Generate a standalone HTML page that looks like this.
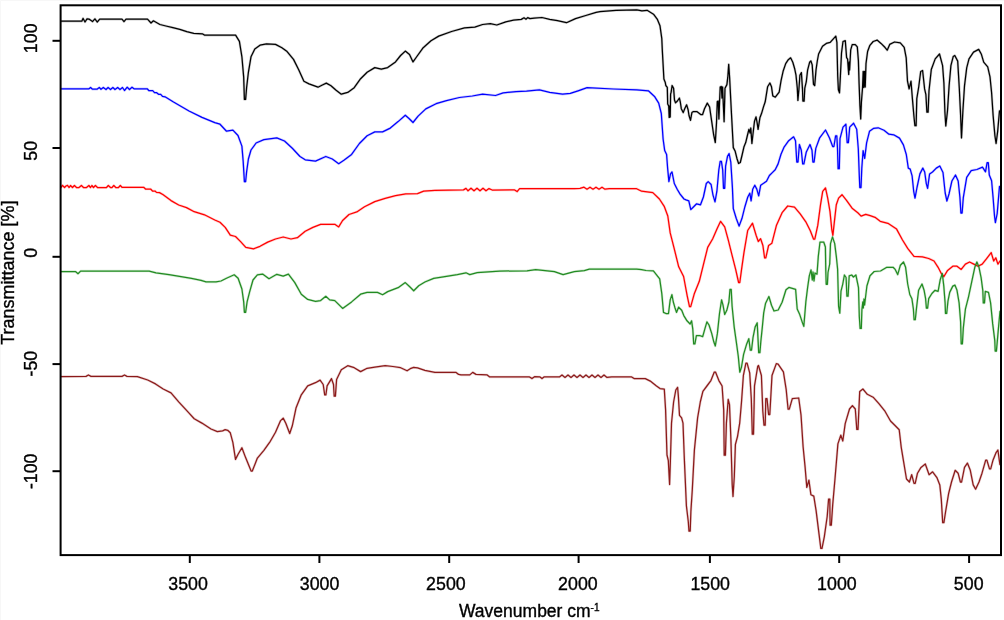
<!DOCTYPE html><html><head><meta charset="utf-8"><style>html,body{margin:0;padding:0;background:#fff;overflow:hidden;width:1004px;height:620px;}svg{display:block;}text{font-family:"Liberation Sans",Arial,sans-serif;fill:#000;stroke:#000;stroke-width:0.35px;}</style></head><body>
<svg width="1004" height="620" viewBox="0 0 1004 620">
<rect x="0" y="0" width="1004" height="620" fill="#fff"/>
<path d="M0.5,620V0.5H1004" fill="none" stroke="#f7f7f7" stroke-width="1"/>
<g>
<polyline fill="none" stroke="#000000" stroke-opacity="0.2" stroke-width="2.5" stroke-linejoin="round" stroke-linecap="round" points="61.3,21.2 81.8,21.2 83.0,18.4 85.0,22.0 87.0,18.8 89.3,19.2 92.5,21.6 94.9,18.8 97.3,22.0 99.7,19.2 122.0,19.2 124.0,21.6 126.0,19.2 147.5,19.2 151.0,23.0 153.4,20.8 159.9,24.5 165.9,26.0 172.9,27.7 179.8,29.4 186.8,31.7 193.8,33.4 202.7,33.9 204.7,35.2 235.6,35.2 239.4,41.3 241.9,56.8 243.7,77.4 244.4,99.4 245.6,99.4 246.6,87.7 248.4,72.3 251.0,56.8 254.8,49.0 260.0,45.2 266.5,43.9 275.5,44.4 281.9,47.7 287.1,51.6 293.5,59.4 298.7,69.7 303.9,81.3 309.0,83.9 318.0,87.2 321.9,85.2 326.3,83.1 331.0,85.7 336.1,90.3 341.3,94.2 347.7,92.4 354.2,87.7 360.6,78.7 367.1,72.3 374.8,67.6 381.3,69.2 387.7,67.6 395.5,61.9 400.6,55.5 405.3,51.1 409.5,54.5 413.0,61.9 416.5,57.0 423.2,47.7 431.0,40.8 438.7,36.1 451.6,31.5 464.5,27.9 474.8,27.1 482.6,24.5 490.3,23.7 496.8,25.0 505.8,21.9 513.5,20.1 521.3,19.4 524.0,17.8 526.0,19.2 527.7,17.6 530.0,18.6 534.2,18.1 541.9,17.5 549.7,19.4 557.4,20.6 566.5,22.7 575.5,18.6 585.8,15.5 596.1,12.4 600.0,11.6 616.1,10.3 636.8,9.8 641.9,10.8 647.1,10.3 653.5,14.2 657.4,19.4 660.0,25.8 661.8,38.7 662.3,50.0 663.9,79.0 665.3,82.6 665.8,85.5 667.3,87.4 667.7,104.0 668.7,106.0 669.2,117.4 669.8,106.0 670.2,117.0 670.6,94.2 671.1,92.3 672.1,85.5 673.6,88.4 674.5,100.0 675.5,102.9 677.4,101.0 679.4,98.1 680.3,102.0 681.3,108.7 683.2,112.6 684.7,108.7 686.6,104.8 688.1,109.7 689.0,115.5 690.5,120.3 691.9,112.6 693.4,111.6 696.8,111.6 700.7,114.5 702.6,114.5 704.5,108.7 707.3,103.1 709.6,107.0 711.8,122.1 713.6,134.5 715.3,142.5 716.5,123.0 717.3,101.5 718.2,101.0 718.9,119.0 719.6,101.0 720.2,87.0 721.3,86.5 722.0,98.0 722.6,87.0 723.1,99.4 724.1,121.7 725.0,88.3 726.9,84.6 727.8,77.2 728.7,64.3 729.6,77.2 731.5,114.3 733.3,147.6 735.2,151.3 737.0,158.7 738.6,163.5 740.3,162.5 742.1,155.0 743.9,147.1 745.7,142.6 747.4,135.5 748.9,129.3 750.1,133.0 750.8,128.0 751.9,143.5 752.8,135.5 754.5,121.3 756.0,116.9 757.2,123.1 758.1,129.3 759.9,117.8 761.6,113.3 763.4,107.1 765.2,101.8 767.6,86.8 769.9,83.0 771.5,86.8 772.8,95.9 775.3,97.2 779.2,92.0 781.1,80.4 783.1,71.3 785.7,63.6 788.3,59.7 790.6,57.8 792.8,62.3 794.7,68.8 796.0,75.2 797.3,88.1 797.9,100.4 798.9,89.4 799.9,75.2 801.4,72.6 802.5,89.4 802.9,101.1 804.1,101.1 804.8,88.1 806.3,81.7 807.6,70.1 809.6,62.3 810.9,61.0 812.2,64.9 813.5,84.3 814.7,85.6 816.0,70.1 817.3,61.0 818.6,54.0 822.5,46.3 826.3,43.4 830.2,42.4 835.8,36.1 836.9,42.3 837.7,76.0 838.4,89.8 839.5,92.9 840.4,76.0 841.5,53.0 843.0,41.5 845.3,40.7 846.6,57.6 847.6,59.1 848.7,74.5 849.2,62.0 849.6,70.0 850.7,49.9 852.2,44.6 855.3,44.6 857.3,46.9 858.4,60.7 859.1,83.7 859.9,105.2 860.7,119.0 861.4,102.1 862.5,88.3 863.2,71.4 863.8,87.5 864.5,71.4 865.2,87.0 866.0,63.7 867.6,51.5 869.9,45.3 873.2,41.5 877.1,40.1 881.0,43.4 884.9,47.3 887.2,50.2 889.7,44.4 894.5,42.0 900.3,42.8 904.2,47.3 906.2,57.9 907.5,81.2 909.1,88.9 911.0,81.2 912.4,98.6 913.9,116.0 914.9,125.7 916.1,125.7 916.8,98.6 918.7,87.0 920.7,71.5 922.6,70.5 924.6,88.9 925.9,94.7 926.9,112.1 928.1,112.1 929.0,90.8 931.3,69.5 935.2,58.9 939.5,54.0 942.6,65.7 943.9,83.1 944.9,112.1 945.8,126.0 947.5,110.8 949.1,85.9 950.9,65.6 953.2,56.6 954.8,55.5 957.7,61.1 959.3,88.2 960.6,115.3 961.5,137.9 962.9,110.8 964.5,85.9 966.7,67.9 969.0,58.9 973.5,52.1 978.7,49.4 981.4,54.3 983.7,62.2 987.7,66.8 990.0,76.9 991.6,92.7 993.1,115.3 994.9,135.6 996.1,143.5 997.7,131.1 999.5,110.8"/>
<polyline fill="none" stroke="#000000" stroke-width="1.25" stroke-linejoin="round" stroke-linecap="round" points="61.3,21.2 81.8,21.2 83.0,18.4 85.0,22.0 87.0,18.8 89.3,19.2 92.5,21.6 94.9,18.8 97.3,22.0 99.7,19.2 122.0,19.2 124.0,21.6 126.0,19.2 147.5,19.2 151.0,23.0 153.4,20.8 159.9,24.5 165.9,26.0 172.9,27.7 179.8,29.4 186.8,31.7 193.8,33.4 202.7,33.9 204.7,35.2 235.6,35.2 239.4,41.3 241.9,56.8 243.7,77.4 244.4,99.4 245.6,99.4 246.6,87.7 248.4,72.3 251.0,56.8 254.8,49.0 260.0,45.2 266.5,43.9 275.5,44.4 281.9,47.7 287.1,51.6 293.5,59.4 298.7,69.7 303.9,81.3 309.0,83.9 318.0,87.2 321.9,85.2 326.3,83.1 331.0,85.7 336.1,90.3 341.3,94.2 347.7,92.4 354.2,87.7 360.6,78.7 367.1,72.3 374.8,67.6 381.3,69.2 387.7,67.6 395.5,61.9 400.6,55.5 405.3,51.1 409.5,54.5 413.0,61.9 416.5,57.0 423.2,47.7 431.0,40.8 438.7,36.1 451.6,31.5 464.5,27.9 474.8,27.1 482.6,24.5 490.3,23.7 496.8,25.0 505.8,21.9 513.5,20.1 521.3,19.4 524.0,17.8 526.0,19.2 527.7,17.6 530.0,18.6 534.2,18.1 541.9,17.5 549.7,19.4 557.4,20.6 566.5,22.7 575.5,18.6 585.8,15.5 596.1,12.4 600.0,11.6 616.1,10.3 636.8,9.8 641.9,10.8 647.1,10.3 653.5,14.2 657.4,19.4 660.0,25.8 661.8,38.7 662.3,50.0 663.9,79.0 665.3,82.6 665.8,85.5 667.3,87.4 667.7,104.0 668.7,106.0 669.2,117.4 669.8,106.0 670.2,117.0 670.6,94.2 671.1,92.3 672.1,85.5 673.6,88.4 674.5,100.0 675.5,102.9 677.4,101.0 679.4,98.1 680.3,102.0 681.3,108.7 683.2,112.6 684.7,108.7 686.6,104.8 688.1,109.7 689.0,115.5 690.5,120.3 691.9,112.6 693.4,111.6 696.8,111.6 700.7,114.5 702.6,114.5 704.5,108.7 707.3,103.1 709.6,107.0 711.8,122.1 713.6,134.5 715.3,142.5 716.5,123.0 717.3,101.5 718.2,101.0 718.9,119.0 719.6,101.0 720.2,87.0 721.3,86.5 722.0,98.0 722.6,87.0 723.1,99.4 724.1,121.7 725.0,88.3 726.9,84.6 727.8,77.2 728.7,64.3 729.6,77.2 731.5,114.3 733.3,147.6 735.2,151.3 737.0,158.7 738.6,163.5 740.3,162.5 742.1,155.0 743.9,147.1 745.7,142.6 747.4,135.5 748.9,129.3 750.1,133.0 750.8,128.0 751.9,143.5 752.8,135.5 754.5,121.3 756.0,116.9 757.2,123.1 758.1,129.3 759.9,117.8 761.6,113.3 763.4,107.1 765.2,101.8 767.6,86.8 769.9,83.0 771.5,86.8 772.8,95.9 775.3,97.2 779.2,92.0 781.1,80.4 783.1,71.3 785.7,63.6 788.3,59.7 790.6,57.8 792.8,62.3 794.7,68.8 796.0,75.2 797.3,88.1 797.9,100.4 798.9,89.4 799.9,75.2 801.4,72.6 802.5,89.4 802.9,101.1 804.1,101.1 804.8,88.1 806.3,81.7 807.6,70.1 809.6,62.3 810.9,61.0 812.2,64.9 813.5,84.3 814.7,85.6 816.0,70.1 817.3,61.0 818.6,54.0 822.5,46.3 826.3,43.4 830.2,42.4 835.8,36.1 836.9,42.3 837.7,76.0 838.4,89.8 839.5,92.9 840.4,76.0 841.5,53.0 843.0,41.5 845.3,40.7 846.6,57.6 847.6,59.1 848.7,74.5 849.2,62.0 849.6,70.0 850.7,49.9 852.2,44.6 855.3,44.6 857.3,46.9 858.4,60.7 859.1,83.7 859.9,105.2 860.7,119.0 861.4,102.1 862.5,88.3 863.2,71.4 863.8,87.5 864.5,71.4 865.2,87.0 866.0,63.7 867.6,51.5 869.9,45.3 873.2,41.5 877.1,40.1 881.0,43.4 884.9,47.3 887.2,50.2 889.7,44.4 894.5,42.0 900.3,42.8 904.2,47.3 906.2,57.9 907.5,81.2 909.1,88.9 911.0,81.2 912.4,98.6 913.9,116.0 914.9,125.7 916.1,125.7 916.8,98.6 918.7,87.0 920.7,71.5 922.6,70.5 924.6,88.9 925.9,94.7 926.9,112.1 928.1,112.1 929.0,90.8 931.3,69.5 935.2,58.9 939.5,54.0 942.6,65.7 943.9,83.1 944.9,112.1 945.8,126.0 947.5,110.8 949.1,85.9 950.9,65.6 953.2,56.6 954.8,55.5 957.7,61.1 959.3,88.2 960.6,115.3 961.5,137.9 962.9,110.8 964.5,85.9 966.7,67.9 969.0,58.9 973.5,52.1 978.7,49.4 981.4,54.3 983.7,62.2 987.7,66.8 990.0,76.9 991.6,92.7 993.1,115.3 994.9,135.6 996.1,143.5 997.7,131.1 999.5,110.8"/>
<polyline fill="none" stroke="#0000ff" stroke-opacity="0.2" stroke-width="2.5" stroke-linejoin="round" stroke-linecap="round" points="61.3,88.8 89.0,88.8 90.6,87.5 92.5,89.2 97.0,89.2 99.3,87.5 101.0,89.3 103.3,87.5 106.0,89.5 108.1,87.5 110.5,89.5 112.9,87.5 115.0,89.5 117.7,87.5 120.0,89.5 122.5,87.5 124.5,90.5 127.2,87.2 129.5,89.5 132.0,87.2 134.0,88.8 147.2,88.8 149.0,90.7 152.7,90.7 154.5,92.7 156.7,92.7 158.5,94.3 160.7,94.3 162.5,96.3 165.0,96.8 173.5,102.0 189.0,111.0 202.0,117.4 214.8,122.6 220.0,124.2 226.5,131.2 232.9,130.1 238.0,135.5 241.9,146.1 243.2,161.6 244.4,181.7 245.6,181.7 246.6,171.9 248.4,159.0 251.0,150.0 256.1,143.0 263.9,139.7 276.8,137.9 284.5,141.0 292.3,148.2 300.0,156.5 305.2,159.8 315.5,161.1 325.8,156.5 332.3,159.0 338.7,163.7 343.9,160.3 351.6,154.4 359.4,143.5 367.1,135.8 374.8,131.9 382.6,131.9 390.3,128.1 398.1,121.6 405.3,115.2 409.0,118.5 413.0,122.5 418.1,116.1 425.8,108.9 436.1,103.7 446.5,100.6 459.4,97.5 472.3,96.0 482.6,94.2 495.5,95.5 503.2,92.9 516.1,91.6 526.5,91.1 539.4,89.8 549.7,92.4 562.6,94.2 570.3,93.4 578.1,90.8 587.1,87.7 613.5,89.0 636.8,89.8 648.4,90.8 654.8,96.8 658.7,103.2 661.3,113.5 663.1,139.0 664.7,150.6 666.6,154.5 667.6,168.0 668.9,181.6 670.5,173.8 672.0,171.9 674.3,183.5 677.2,189.3 680.1,194.1 684.0,199.0 686.0,199.9 688.8,200.9 690.8,209.6 693.7,206.7 696.6,203.8 700.5,204.8 703.4,197.0 706.3,183.5 708.2,181.6 711.1,184.5 713.0,195.1 715.0,201.9 716.9,191.2 718.8,170.0 720.2,161.3 721.4,161.3 722.7,170.0 723.5,188.3 724.7,188.3 725.6,166.1 727.5,156.4 729.1,153.5 730.8,162.2 732.4,187.4 733.3,208.6 736.2,218.3 739.1,226.1 742.0,218.3 744.9,206.7 747.8,197.0 749.8,193.2 751.1,200.9 752.7,189.3 754.8,185.2 756.8,189.1 758.7,195.9 760.7,185.2 763.6,183.3 766.5,181.3 769.4,175.5 772.3,172.6 775.2,169.7 778.1,163.9 781.0,154.2 783.9,147.4 788.7,140.7 793.6,136.8 795.5,140.7 796.8,162.0 798.0,162.0 799.4,144.5 801.3,150.3 802.7,163.9 803.9,163.9 806.2,152.3 810.0,144.5 812.0,150.3 812.9,162.0 814.1,162.0 815.8,148.4 819.7,137.8 825.5,130.0 829.4,137.8 832.7,146.5 833.9,146.5 835.6,135.8 836.8,135.8 837.5,148.4 838.1,168.7 839.3,168.7 840.0,138.7 843.0,127.1 845.9,124.2 847.2,142.6 848.4,142.6 849.7,127.1 853.6,123.2 856.7,129.2 858.3,148.7 859.3,175.8 859.8,187.5 861.0,187.5 861.8,168.1 863.1,150.7 864.7,158.4 866.6,142.9 869.5,131.3 873.4,128.4 878.2,127.8 884.0,130.3 888.9,134.2 893.7,134.8 899.5,138.1 903.4,144.9 906.3,154.5 908.3,168.1 910.2,169.1 912.1,175.8 913.7,191.3 915.0,198.1 917.0,187.5 919.9,173.9 922.8,168.1 924.7,172.0 926.3,183.6 927.6,188.4 929.6,173.9 932.5,172.0 936.3,168.1 939.8,166.0 943.0,172.5 945.2,193.0 946.9,201.0 949.0,194.0 951.9,181.0 955.5,175.0 958.2,181.0 959.9,197.0 960.9,213.0 962.1,213.0 963.3,197.7 966.7,177.4 971.2,170.6 976.9,169.5 982.5,167.2 985.5,171.8 987.1,162.7 988.3,162.7 989.3,175.1 991.6,180.8 993.1,197.7 994.5,215.8 995.4,222.6 997.2,213.5 999.5,186.4"/>
<polyline fill="none" stroke="#0000ff" stroke-width="1.25" stroke-linejoin="round" stroke-linecap="round" points="61.3,88.8 89.0,88.8 90.6,87.5 92.5,89.2 97.0,89.2 99.3,87.5 101.0,89.3 103.3,87.5 106.0,89.5 108.1,87.5 110.5,89.5 112.9,87.5 115.0,89.5 117.7,87.5 120.0,89.5 122.5,87.5 124.5,90.5 127.2,87.2 129.5,89.5 132.0,87.2 134.0,88.8 147.2,88.8 149.0,90.7 152.7,90.7 154.5,92.7 156.7,92.7 158.5,94.3 160.7,94.3 162.5,96.3 165.0,96.8 173.5,102.0 189.0,111.0 202.0,117.4 214.8,122.6 220.0,124.2 226.5,131.2 232.9,130.1 238.0,135.5 241.9,146.1 243.2,161.6 244.4,181.7 245.6,181.7 246.6,171.9 248.4,159.0 251.0,150.0 256.1,143.0 263.9,139.7 276.8,137.9 284.5,141.0 292.3,148.2 300.0,156.5 305.2,159.8 315.5,161.1 325.8,156.5 332.3,159.0 338.7,163.7 343.9,160.3 351.6,154.4 359.4,143.5 367.1,135.8 374.8,131.9 382.6,131.9 390.3,128.1 398.1,121.6 405.3,115.2 409.0,118.5 413.0,122.5 418.1,116.1 425.8,108.9 436.1,103.7 446.5,100.6 459.4,97.5 472.3,96.0 482.6,94.2 495.5,95.5 503.2,92.9 516.1,91.6 526.5,91.1 539.4,89.8 549.7,92.4 562.6,94.2 570.3,93.4 578.1,90.8 587.1,87.7 613.5,89.0 636.8,89.8 648.4,90.8 654.8,96.8 658.7,103.2 661.3,113.5 663.1,139.0 664.7,150.6 666.6,154.5 667.6,168.0 668.9,181.6 670.5,173.8 672.0,171.9 674.3,183.5 677.2,189.3 680.1,194.1 684.0,199.0 686.0,199.9 688.8,200.9 690.8,209.6 693.7,206.7 696.6,203.8 700.5,204.8 703.4,197.0 706.3,183.5 708.2,181.6 711.1,184.5 713.0,195.1 715.0,201.9 716.9,191.2 718.8,170.0 720.2,161.3 721.4,161.3 722.7,170.0 723.5,188.3 724.7,188.3 725.6,166.1 727.5,156.4 729.1,153.5 730.8,162.2 732.4,187.4 733.3,208.6 736.2,218.3 739.1,226.1 742.0,218.3 744.9,206.7 747.8,197.0 749.8,193.2 751.1,200.9 752.7,189.3 754.8,185.2 756.8,189.1 758.7,195.9 760.7,185.2 763.6,183.3 766.5,181.3 769.4,175.5 772.3,172.6 775.2,169.7 778.1,163.9 781.0,154.2 783.9,147.4 788.7,140.7 793.6,136.8 795.5,140.7 796.8,162.0 798.0,162.0 799.4,144.5 801.3,150.3 802.7,163.9 803.9,163.9 806.2,152.3 810.0,144.5 812.0,150.3 812.9,162.0 814.1,162.0 815.8,148.4 819.7,137.8 825.5,130.0 829.4,137.8 832.7,146.5 833.9,146.5 835.6,135.8 836.8,135.8 837.5,148.4 838.1,168.7 839.3,168.7 840.0,138.7 843.0,127.1 845.9,124.2 847.2,142.6 848.4,142.6 849.7,127.1 853.6,123.2 856.7,129.2 858.3,148.7 859.3,175.8 859.8,187.5 861.0,187.5 861.8,168.1 863.1,150.7 864.7,158.4 866.6,142.9 869.5,131.3 873.4,128.4 878.2,127.8 884.0,130.3 888.9,134.2 893.7,134.8 899.5,138.1 903.4,144.9 906.3,154.5 908.3,168.1 910.2,169.1 912.1,175.8 913.7,191.3 915.0,198.1 917.0,187.5 919.9,173.9 922.8,168.1 924.7,172.0 926.3,183.6 927.6,188.4 929.6,173.9 932.5,172.0 936.3,168.1 939.8,166.0 943.0,172.5 945.2,193.0 946.9,201.0 949.0,194.0 951.9,181.0 955.5,175.0 958.2,181.0 959.9,197.0 960.9,213.0 962.1,213.0 963.3,197.7 966.7,177.4 971.2,170.6 976.9,169.5 982.5,167.2 985.5,171.8 987.1,162.7 988.3,162.7 989.3,175.1 991.6,180.8 993.1,197.7 994.5,215.8 995.4,222.6 997.2,213.5 999.5,186.4"/>
<polyline fill="none" stroke="#ff0000" stroke-opacity="0.2" stroke-width="2.5" stroke-linejoin="round" stroke-linecap="round" points="61.3,187.2 62.5,185.3 64.5,187.5 66.0,186.0 67.5,185.3 69.0,187.5 70.5,185.5 72.5,187.5 74.4,185.5 76.5,187.5 79.0,187.5 81.4,185.5 83.5,187.5 86.5,187.5 88.9,185.5 90.5,187.5 91.9,185.5 93.5,187.5 95.4,185.5 97.5,187.5 106.5,187.5 108.3,185.5 110.5,187.5 112.0,187.5 113.8,185.5 115.8,187.5 118.5,187.5 120.3,185.5 122.0,187.3 143.7,187.3 145.5,189.0 150.6,189.0 152.5,191.0 155.0,191.0 156.5,192.4 159.5,192.6 163.2,194.7 171.0,200.6 178.7,205.0 186.5,207.6 194.2,211.7 204.5,214.8 214.8,220.0 220.0,222.3 225.2,227.4 230.3,235.2 235.5,236.5 240.6,241.6 245.8,247.3 253.5,248.8 260.0,246.3 267.7,242.1 275.5,239.0 283.2,237.0 291.0,239.0 297.4,237.7 305.2,231.3 312.9,227.4 320.6,224.3 334.8,224.3 338.7,226.9 342.6,220.5 349.0,214.5 356.8,211.9 364.5,206.8 374.8,201.6 385.2,198.3 395.5,195.7 405.8,193.9 417.5,193.7 423.7,191.2 434.9,190.4 463.5,189.9 466.0,188.4 468.0,190.8 471.0,188.2 474.0,190.8 477.0,188.2 480.0,190.8 483.0,188.2 486.0,190.8 489.0,188.6 492.2,190.0 514.6,189.9 517.1,191.6 519.6,188.7 574.3,188.7 580.0,188.4 584.0,187.2 587.0,189.2 590.0,187.2 593.0,189.2 596.0,187.2 599.0,189.2 602.0,187.2 605.0,189.2 609.2,188.7 636.6,188.7 641.6,191.2 652.8,192.6 659.4,199.0 664.2,206.3 667.8,216.0 670.2,232.9 673.9,247.4 678.7,266.8 683.6,276.5 687.2,295.8 689.5,306.7 690.7,306.7 694.4,293.4 699.3,281.3 704.1,261.9 707.7,247.4 712.6,239.0 717.4,228.1 720.6,221.3 724.7,226.9 728.3,240.2 731.9,254.7 735.6,269.2 738.6,282.5 739.8,282.5 741.6,269.2 744.0,252.3 747.7,230.5 752.5,223.2 756.1,235.3 758.3,241.5 760.6,238.7 762.9,245.5 764.6,257.9 765.8,257.9 768.6,245.5 771.9,243.2 776.5,225.2 782.1,212.7 787.7,206.0 794.5,207.1 800.2,213.9 805.8,221.8 810.3,230.8 813.6,239.2 814.8,239.2 817.8,225.2 820.5,204.8 822.7,191.3 825.5,187.9 827.7,198.1 830.0,211.6 831.8,229.7 832.9,235.3 834.5,220.6 836.3,204.8 838.6,198.1 842.0,194.7 846.5,200.3 852.1,208.2 857.8,212.7 861.1,216.1 865.7,214.3 870.2,215.7 875.0,217.3 880.2,221.3 887.9,223.3 896.6,229.1 902.5,240.0 907.7,248.4 914.0,256.4 922.4,256.8 928.7,258.5 934.0,261.0 938.1,267.3 941.3,273.5 943.8,276.7 947.6,270.4 952.8,266.2 957.0,266.2 961.2,269.4 965.4,264.1 969.6,262.0 973.8,264.1 978.0,266.2 982.2,264.1 986.4,258.9 991.2,252.6 993.7,261.0 995.8,257.8 997.9,264.1 1000.0,261.0"/>
<polyline fill="none" stroke="#ff0000" stroke-width="1.25" stroke-linejoin="round" stroke-linecap="round" points="61.3,187.2 62.5,185.3 64.5,187.5 66.0,186.0 67.5,185.3 69.0,187.5 70.5,185.5 72.5,187.5 74.4,185.5 76.5,187.5 79.0,187.5 81.4,185.5 83.5,187.5 86.5,187.5 88.9,185.5 90.5,187.5 91.9,185.5 93.5,187.5 95.4,185.5 97.5,187.5 106.5,187.5 108.3,185.5 110.5,187.5 112.0,187.5 113.8,185.5 115.8,187.5 118.5,187.5 120.3,185.5 122.0,187.3 143.7,187.3 145.5,189.0 150.6,189.0 152.5,191.0 155.0,191.0 156.5,192.4 159.5,192.6 163.2,194.7 171.0,200.6 178.7,205.0 186.5,207.6 194.2,211.7 204.5,214.8 214.8,220.0 220.0,222.3 225.2,227.4 230.3,235.2 235.5,236.5 240.6,241.6 245.8,247.3 253.5,248.8 260.0,246.3 267.7,242.1 275.5,239.0 283.2,237.0 291.0,239.0 297.4,237.7 305.2,231.3 312.9,227.4 320.6,224.3 334.8,224.3 338.7,226.9 342.6,220.5 349.0,214.5 356.8,211.9 364.5,206.8 374.8,201.6 385.2,198.3 395.5,195.7 405.8,193.9 417.5,193.7 423.7,191.2 434.9,190.4 463.5,189.9 466.0,188.4 468.0,190.8 471.0,188.2 474.0,190.8 477.0,188.2 480.0,190.8 483.0,188.2 486.0,190.8 489.0,188.6 492.2,190.0 514.6,189.9 517.1,191.6 519.6,188.7 574.3,188.7 580.0,188.4 584.0,187.2 587.0,189.2 590.0,187.2 593.0,189.2 596.0,187.2 599.0,189.2 602.0,187.2 605.0,189.2 609.2,188.7 636.6,188.7 641.6,191.2 652.8,192.6 659.4,199.0 664.2,206.3 667.8,216.0 670.2,232.9 673.9,247.4 678.7,266.8 683.6,276.5 687.2,295.8 689.5,306.7 690.7,306.7 694.4,293.4 699.3,281.3 704.1,261.9 707.7,247.4 712.6,239.0 717.4,228.1 720.6,221.3 724.7,226.9 728.3,240.2 731.9,254.7 735.6,269.2 738.6,282.5 739.8,282.5 741.6,269.2 744.0,252.3 747.7,230.5 752.5,223.2 756.1,235.3 758.3,241.5 760.6,238.7 762.9,245.5 764.6,257.9 765.8,257.9 768.6,245.5 771.9,243.2 776.5,225.2 782.1,212.7 787.7,206.0 794.5,207.1 800.2,213.9 805.8,221.8 810.3,230.8 813.6,239.2 814.8,239.2 817.8,225.2 820.5,204.8 822.7,191.3 825.5,187.9 827.7,198.1 830.0,211.6 831.8,229.7 832.9,235.3 834.5,220.6 836.3,204.8 838.6,198.1 842.0,194.7 846.5,200.3 852.1,208.2 857.8,212.7 861.1,216.1 865.7,214.3 870.2,215.7 875.0,217.3 880.2,221.3 887.9,223.3 896.6,229.1 902.5,240.0 907.7,248.4 914.0,256.4 922.4,256.8 928.7,258.5 934.0,261.0 938.1,267.3 941.3,273.5 943.8,276.7 947.6,270.4 952.8,266.2 957.0,266.2 961.2,269.4 965.4,264.1 969.6,262.0 973.8,264.1 978.0,266.2 982.2,264.1 986.4,258.9 991.2,252.6 993.7,261.0 995.8,257.8 997.9,264.1 1000.0,261.0"/>
<polyline fill="none" stroke="#228b22" stroke-opacity="0.2" stroke-width="2.5" stroke-linejoin="round" stroke-linecap="round" points="61.3,271.6 75.5,271.6 78.0,273.7 80.6,271.1 149.2,271.1 156.0,272.8 169.0,274.7 181.0,276.7 191.5,278.4 201.0,280.3 206.0,281.9 216.0,281.9 221.0,281.0 226.5,278.2 234.2,274.8 238.1,278.2 241.9,289.0 243.7,301.9 244.4,312.3 245.6,312.3 247.1,301.9 249.7,291.6 253.0,280.0 257.4,274.8 262.6,274.1 269.0,278.7 276.8,274.3 283.2,276.1 288.4,274.1 294.8,282.6 301.3,294.2 307.7,299.4 315.5,301.4 320.6,300.6 325.8,296.3 329.7,299.9 334.8,300.6 342.6,308.4 351.6,301.9 360.6,294.2 367.1,292.4 377.4,292.4 382.6,294.7 387.7,291.6 398.1,287.7 405.3,282.6 410.0,287.0 413.7,290.8 418.7,285.8 424.9,282.0 433.7,278.3 444.9,276.6 457.3,274.6 466.0,272.8 469.8,274.6 477.2,272.6 499.6,271.1 527.0,270.8 535.7,269.6 554.4,271.6 563.1,274.6 574.3,271.6 584.3,270.6 589.3,269.1 636.6,269.1 641.6,269.6 646.0,270.5 653.4,270.9 659.7,278.9 661.8,293.6 663.5,312.4 666.0,313.5 668.5,313.5 670.2,299.9 671.9,294.6 673.3,302.0 674.8,307.2 676.5,312.4 678.6,307.2 681.7,310.3 683.8,315.6 687.0,320.8 690.1,324.0 691.6,320.8 692.8,329.2 693.7,343.9 694.9,343.9 696.4,335.5 699.5,335.5 702.7,336.6 704.8,329.2 706.9,321.9 709.0,325.0 711.7,333.4 713.8,341.8 715.3,346.0 717.4,333.4 719.5,313.5 721.6,299.9 723.0,305.1 724.7,314.5 726.8,310.3 728.9,302.0 730.0,289.4 731.2,289.4 732.1,306.2 734.2,327.1 736.3,341.8 738.3,356.5 739.8,372.2 741.5,367.0 743.6,354.4 746.7,343.9 748.8,338.7 750.3,350.2 751.5,350.2 753.0,337.6 755.1,327.1 757.2,322.9 758.7,352.6 759.9,352.6 760.8,341.9 762.4,326.4 763.7,312.9 765.6,303.2 768.9,296.5 771.5,305.2 774.0,311.0 778.2,310.0 782.1,302.3 786.0,289.7 788.9,287.4 795.6,289.3 797.2,309.0 799.5,313.9 802.4,322.6 803.8,326.4 805.9,301.3 807.6,287.7 809.3,275.8 811.0,269.9 812.3,280.0 813.0,272.0 814.0,281.0 815.0,273.0 817.0,274.2 818.3,256.4 820.0,242.0 823.7,242.0 825.4,247.0 825.8,270.8 826.2,284.3 827.4,284.3 828.0,272.5 829.7,264.0 830.5,243.6 832.5,236.9 834.7,243.6 836.4,257.2 837.6,269.0 838.6,306.4 839.8,313.1 841.0,291.1 842.7,284.3 844.4,275.0 846.1,277.5 846.9,296.2 848.1,296.2 849.2,275.8 851.7,275.0 853.4,277.0 855.9,275.0 858.5,287.7 859.3,316.5 860.1,328.4 861.3,328.4 861.9,309.7 862.8,302.0 863.3,308.0 864.0,299.0 864.6,305.0 866.9,286.0 870.0,275.8 874.2,271.5 880.5,271.0 886.8,267.3 893.1,267.3 895.2,269.4 897.7,274.6 900.4,265.2 903.5,262.0 905.6,267.3 907.7,284.0 909.8,294.5 911.9,298.7 913.4,309.2 914.1,319.7 915.3,319.7 916.6,307.1 918.6,290.3 922.0,284.0 924.1,290.3 925.6,298.7 926.4,308.1 927.6,308.1 928.7,298.7 931.9,293.5 935.0,290.3 938.1,291.4 940.2,279.8 942.3,273.5 943.8,286.1 945.1,302.9 945.5,313.4 946.7,313.4 948.0,300.8 949.7,292.4 952.8,286.1 954.9,285.1 957.0,290.3 959.1,302.9 960.6,321.8 961.2,343.8 962.4,343.8 963.3,328.1 965.4,309.2 968.6,296.6 971.7,281.9 974.8,267.3 976.9,262.0 979.0,267.3 981.1,277.7 982.8,290.3 983.3,302.9 984.5,302.9 985.3,291.4 988.5,292.4 990.6,302.9 992.7,323.9 994.8,340.7 995.2,351.1 996.4,351.1 997.9,334.4 1000.0,311.3"/>
<polyline fill="none" stroke="#228b22" stroke-width="1.25" stroke-linejoin="round" stroke-linecap="round" points="61.3,271.6 75.5,271.6 78.0,273.7 80.6,271.1 149.2,271.1 156.0,272.8 169.0,274.7 181.0,276.7 191.5,278.4 201.0,280.3 206.0,281.9 216.0,281.9 221.0,281.0 226.5,278.2 234.2,274.8 238.1,278.2 241.9,289.0 243.7,301.9 244.4,312.3 245.6,312.3 247.1,301.9 249.7,291.6 253.0,280.0 257.4,274.8 262.6,274.1 269.0,278.7 276.8,274.3 283.2,276.1 288.4,274.1 294.8,282.6 301.3,294.2 307.7,299.4 315.5,301.4 320.6,300.6 325.8,296.3 329.7,299.9 334.8,300.6 342.6,308.4 351.6,301.9 360.6,294.2 367.1,292.4 377.4,292.4 382.6,294.7 387.7,291.6 398.1,287.7 405.3,282.6 410.0,287.0 413.7,290.8 418.7,285.8 424.9,282.0 433.7,278.3 444.9,276.6 457.3,274.6 466.0,272.8 469.8,274.6 477.2,272.6 499.6,271.1 527.0,270.8 535.7,269.6 554.4,271.6 563.1,274.6 574.3,271.6 584.3,270.6 589.3,269.1 636.6,269.1 641.6,269.6 646.0,270.5 653.4,270.9 659.7,278.9 661.8,293.6 663.5,312.4 666.0,313.5 668.5,313.5 670.2,299.9 671.9,294.6 673.3,302.0 674.8,307.2 676.5,312.4 678.6,307.2 681.7,310.3 683.8,315.6 687.0,320.8 690.1,324.0 691.6,320.8 692.8,329.2 693.7,343.9 694.9,343.9 696.4,335.5 699.5,335.5 702.7,336.6 704.8,329.2 706.9,321.9 709.0,325.0 711.7,333.4 713.8,341.8 715.3,346.0 717.4,333.4 719.5,313.5 721.6,299.9 723.0,305.1 724.7,314.5 726.8,310.3 728.9,302.0 730.0,289.4 731.2,289.4 732.1,306.2 734.2,327.1 736.3,341.8 738.3,356.5 739.8,372.2 741.5,367.0 743.6,354.4 746.7,343.9 748.8,338.7 750.3,350.2 751.5,350.2 753.0,337.6 755.1,327.1 757.2,322.9 758.7,352.6 759.9,352.6 760.8,341.9 762.4,326.4 763.7,312.9 765.6,303.2 768.9,296.5 771.5,305.2 774.0,311.0 778.2,310.0 782.1,302.3 786.0,289.7 788.9,287.4 795.6,289.3 797.2,309.0 799.5,313.9 802.4,322.6 803.8,326.4 805.9,301.3 807.6,287.7 809.3,275.8 811.0,269.9 812.3,280.0 813.0,272.0 814.0,281.0 815.0,273.0 817.0,274.2 818.3,256.4 820.0,242.0 823.7,242.0 825.4,247.0 825.8,270.8 826.2,284.3 827.4,284.3 828.0,272.5 829.7,264.0 830.5,243.6 832.5,236.9 834.7,243.6 836.4,257.2 837.6,269.0 838.6,306.4 839.8,313.1 841.0,291.1 842.7,284.3 844.4,275.0 846.1,277.5 846.9,296.2 848.1,296.2 849.2,275.8 851.7,275.0 853.4,277.0 855.9,275.0 858.5,287.7 859.3,316.5 860.1,328.4 861.3,328.4 861.9,309.7 862.8,302.0 863.3,308.0 864.0,299.0 864.6,305.0 866.9,286.0 870.0,275.8 874.2,271.5 880.5,271.0 886.8,267.3 893.1,267.3 895.2,269.4 897.7,274.6 900.4,265.2 903.5,262.0 905.6,267.3 907.7,284.0 909.8,294.5 911.9,298.7 913.4,309.2 914.1,319.7 915.3,319.7 916.6,307.1 918.6,290.3 922.0,284.0 924.1,290.3 925.6,298.7 926.4,308.1 927.6,308.1 928.7,298.7 931.9,293.5 935.0,290.3 938.1,291.4 940.2,279.8 942.3,273.5 943.8,286.1 945.1,302.9 945.5,313.4 946.7,313.4 948.0,300.8 949.7,292.4 952.8,286.1 954.9,285.1 957.0,290.3 959.1,302.9 960.6,321.8 961.2,343.8 962.4,343.8 963.3,328.1 965.4,309.2 968.6,296.6 971.7,281.9 974.8,267.3 976.9,262.0 979.0,267.3 981.1,277.7 982.8,290.3 983.3,302.9 984.5,302.9 985.3,291.4 988.5,292.4 990.6,302.9 992.7,323.9 994.8,340.7 995.2,351.1 996.4,351.1 997.9,334.4 1000.0,311.3"/>
<polyline fill="none" stroke="#8b1a1a" stroke-opacity="0.2" stroke-width="2.5" stroke-linejoin="round" stroke-linecap="round" points="61.3,376.6 86.0,376.4 88.4,375.0 91.0,376.4 122.0,376.4 124.5,375.0 127.0,376.4 137.4,376.6 147.7,380.0 155.5,383.9 163.2,389.0 171.0,392.9 178.7,401.9 187.7,411.7 194.2,418.7 201.9,423.1 211.0,429.0 217.4,431.6 222.6,430.8 225.2,429.7 227.7,430.3 230.3,432.8 232.9,442.6 235.5,459.4 238.1,454.2 241.9,447.7 245.8,458.1 251.1,471.0 252.3,471.0 257.4,458.1 263.9,450.3 270.3,441.3 275.5,432.3 280.6,420.6 283.2,418.1 285.8,423.2 289.7,433.5 292.3,425.8 296.1,407.7 301.3,394.8 307.7,385.8 315.5,382.7 320.1,380.1 323.2,384.5 324.7,394.8 325.9,394.8 327.1,385.8 331.5,378.6 333.5,384.5 334.2,396.1 335.4,396.1 336.6,379.4 341.3,369.8 347.7,365.7 354.2,367.7 360.6,371.6 367.1,368.3 374.8,367.2 385.2,365.7 392.9,366.5 400.6,367.7 407.1,370.8 411.0,368.3 413.7,367.4 417.5,367.9 424.9,370.4 434.9,372.4 456.1,372.4 458.6,374.4 461.0,374.9 469.8,374.9 472.7,372.4 476.0,374.4 487.2,374.9 489.7,376.9 529.5,376.9 532.0,378.6 534.5,376.7 540.0,376.9 542.0,378.6 544.0,376.9 559.4,376.9 562.0,375.0 565.0,377.4 568.0,375.0 571.0,377.4 574.0,375.0 577.0,377.4 580.0,375.0 583.0,377.4 586.0,375.0 589.0,377.4 592.0,375.0 595.0,377.4 598.0,375.0 601.0,377.4 604.0,375.0 607.0,377.4 611.7,376.9 631.6,376.9 634.1,378.6 645.3,378.6 650.3,381.1 656.5,386.1 660.0,388.6 664.3,389.2 665.6,410.0 667.0,455.2 668.3,460.5 669.6,484.5 670.4,460.5 671.5,423.2 673.6,402.0 675.8,390.0 677.6,387.3 678.4,396.6 679.5,415.3 681.6,417.9 683.0,423.2 684.3,457.9 686.4,505.8 688.3,521.8 689.0,531.1 690.2,531.1 690.9,511.1 692.3,489.8 694.4,449.9 697.6,417.9 700.3,402.0 702.9,391.3 706.9,386.0 710.9,380.6 714.3,372.1 715.5,372.1 718.9,380.6 722.1,386.0 723.7,409.9 724.2,455.2 725.4,455.2 726.4,423.2 728.2,399.3 729.5,404.6 730.9,439.2 732.2,484.5 733.0,496.5 734.3,476.5 735.4,444.5 737.5,436.6 739.7,423.2 741.5,402.0 743.4,375.3 745.9,363.2 747.1,363.2 749.7,372.9 751.3,398.7 752.3,434.2 753.5,434.2 754.5,385.8 757.7,366.5 758.5,365.5 761.4,375.5 762.8,411.0 764.0,425.2 765.2,425.2 765.8,398.6 767.0,398.6 768.6,414.5 769.8,414.5 772.0,375.5 776.3,363.6 778.1,364.1 783.4,371.9 786.2,389.7 788.1,409.2 789.3,409.2 792.3,398.6 798.7,398.0 801.0,414.8 803.1,446.8 805.1,467.1 806.8,487.4 808.9,480.2 810.9,494.7 813.8,496.1 816.1,510.7 819.0,533.9 820.8,548.4 822.0,548.4 824.3,536.8 827.2,516.5 828.6,499.0 829.8,499.0 830.1,525.2 831.3,525.2 832.7,504.9 835.0,478.7 837.9,443.9 840.8,435.2 842.8,441.0 845.2,423.6 849.5,409.0 852.4,405.6 855.3,409.0 856.8,429.4 858.0,429.4 859.7,391.6 862.9,389.0 867.3,394.3 873.1,397.2 878.9,403.6 884.7,410.8 890.5,421.0 894.8,425.3 899.2,429.7 901.2,447.1 903.6,461.6 906.5,479.0 909.4,482.0 911.7,474.7 914.0,483.4 915.2,483.4 917.5,473.2 921.0,467.4 925.3,464.0 929.1,474.7 932.6,471.8 936.9,477.6 939.8,484.9 941.3,499.4 942.7,522.6 943.9,522.6 945.7,511.0 948.6,493.6 951.5,482.0 955.2,470.3 958.1,473.2 960.4,482.0 961.6,482.0 964.5,467.4 967.4,463.1 970.3,470.3 973.2,484.9 975.6,489.2 979.0,482.0 982.0,473.2 985.7,460.2 986.9,460.2 989.5,468.9 990.7,468.9 993.0,460.2 995.9,452.9 997.9,450.0 999.9,464.5"/>
<polyline fill="none" stroke="#8b1a1a" stroke-width="1.25" stroke-linejoin="round" stroke-linecap="round" points="61.3,376.6 86.0,376.4 88.4,375.0 91.0,376.4 122.0,376.4 124.5,375.0 127.0,376.4 137.4,376.6 147.7,380.0 155.5,383.9 163.2,389.0 171.0,392.9 178.7,401.9 187.7,411.7 194.2,418.7 201.9,423.1 211.0,429.0 217.4,431.6 222.6,430.8 225.2,429.7 227.7,430.3 230.3,432.8 232.9,442.6 235.5,459.4 238.1,454.2 241.9,447.7 245.8,458.1 251.1,471.0 252.3,471.0 257.4,458.1 263.9,450.3 270.3,441.3 275.5,432.3 280.6,420.6 283.2,418.1 285.8,423.2 289.7,433.5 292.3,425.8 296.1,407.7 301.3,394.8 307.7,385.8 315.5,382.7 320.1,380.1 323.2,384.5 324.7,394.8 325.9,394.8 327.1,385.8 331.5,378.6 333.5,384.5 334.2,396.1 335.4,396.1 336.6,379.4 341.3,369.8 347.7,365.7 354.2,367.7 360.6,371.6 367.1,368.3 374.8,367.2 385.2,365.7 392.9,366.5 400.6,367.7 407.1,370.8 411.0,368.3 413.7,367.4 417.5,367.9 424.9,370.4 434.9,372.4 456.1,372.4 458.6,374.4 461.0,374.9 469.8,374.9 472.7,372.4 476.0,374.4 487.2,374.9 489.7,376.9 529.5,376.9 532.0,378.6 534.5,376.7 540.0,376.9 542.0,378.6 544.0,376.9 559.4,376.9 562.0,375.0 565.0,377.4 568.0,375.0 571.0,377.4 574.0,375.0 577.0,377.4 580.0,375.0 583.0,377.4 586.0,375.0 589.0,377.4 592.0,375.0 595.0,377.4 598.0,375.0 601.0,377.4 604.0,375.0 607.0,377.4 611.7,376.9 631.6,376.9 634.1,378.6 645.3,378.6 650.3,381.1 656.5,386.1 660.0,388.6 664.3,389.2 665.6,410.0 667.0,455.2 668.3,460.5 669.6,484.5 670.4,460.5 671.5,423.2 673.6,402.0 675.8,390.0 677.6,387.3 678.4,396.6 679.5,415.3 681.6,417.9 683.0,423.2 684.3,457.9 686.4,505.8 688.3,521.8 689.0,531.1 690.2,531.1 690.9,511.1 692.3,489.8 694.4,449.9 697.6,417.9 700.3,402.0 702.9,391.3 706.9,386.0 710.9,380.6 714.3,372.1 715.5,372.1 718.9,380.6 722.1,386.0 723.7,409.9 724.2,455.2 725.4,455.2 726.4,423.2 728.2,399.3 729.5,404.6 730.9,439.2 732.2,484.5 733.0,496.5 734.3,476.5 735.4,444.5 737.5,436.6 739.7,423.2 741.5,402.0 743.4,375.3 745.9,363.2 747.1,363.2 749.7,372.9 751.3,398.7 752.3,434.2 753.5,434.2 754.5,385.8 757.7,366.5 758.5,365.5 761.4,375.5 762.8,411.0 764.0,425.2 765.2,425.2 765.8,398.6 767.0,398.6 768.6,414.5 769.8,414.5 772.0,375.5 776.3,363.6 778.1,364.1 783.4,371.9 786.2,389.7 788.1,409.2 789.3,409.2 792.3,398.6 798.7,398.0 801.0,414.8 803.1,446.8 805.1,467.1 806.8,487.4 808.9,480.2 810.9,494.7 813.8,496.1 816.1,510.7 819.0,533.9 820.8,548.4 822.0,548.4 824.3,536.8 827.2,516.5 828.6,499.0 829.8,499.0 830.1,525.2 831.3,525.2 832.7,504.9 835.0,478.7 837.9,443.9 840.8,435.2 842.8,441.0 845.2,423.6 849.5,409.0 852.4,405.6 855.3,409.0 856.8,429.4 858.0,429.4 859.7,391.6 862.9,389.0 867.3,394.3 873.1,397.2 878.9,403.6 884.7,410.8 890.5,421.0 894.8,425.3 899.2,429.7 901.2,447.1 903.6,461.6 906.5,479.0 909.4,482.0 911.7,474.7 914.0,483.4 915.2,483.4 917.5,473.2 921.0,467.4 925.3,464.0 929.1,474.7 932.6,471.8 936.9,477.6 939.8,484.9 941.3,499.4 942.7,522.6 943.9,522.6 945.7,511.0 948.6,493.6 951.5,482.0 955.2,470.3 958.1,473.2 960.4,482.0 961.6,482.0 964.5,467.4 967.4,463.1 970.3,470.3 973.2,484.9 975.6,489.2 979.0,482.0 982.0,473.2 985.7,460.2 986.9,460.2 989.5,468.9 990.7,468.9 993.0,460.2 995.9,452.9 997.9,450.0 999.9,464.5"/>
<rect x="60.6" y="5.3" width="940.4" height="549.8" fill="none" stroke="#000" stroke-width="2"/>
<line x1="189.8" y1="555" x2="189.8" y2="563" stroke="#000" stroke-width="2"/>
<text x="188.1" y="589.5" font-size="17.8" text-anchor="middle">3500</text>
<line x1="319.4" y1="555" x2="319.4" y2="563" stroke="#000" stroke-width="2"/>
<text x="319.6" y="589.5" font-size="17.8" text-anchor="middle">3000</text>
<line x1="449.2" y1="555" x2="449.2" y2="563" stroke="#000" stroke-width="2"/>
<text x="445.9" y="589.5" font-size="17.8" text-anchor="middle">2500</text>
<line x1="578.6" y1="555" x2="578.6" y2="563" stroke="#000" stroke-width="2"/>
<text x="577.9" y="589.5" font-size="17.8" text-anchor="middle">2000</text>
<line x1="709.9" y1="555" x2="709.9" y2="563" stroke="#000" stroke-width="2"/>
<text x="710.2" y="589.5" font-size="17.8" text-anchor="middle">1500</text>
<line x1="839.2" y1="555" x2="839.2" y2="563" stroke="#000" stroke-width="2"/>
<text x="836.9" y="589.5" font-size="17.8" text-anchor="middle">1000</text>
<line x1="969.1" y1="555" x2="969.1" y2="563" stroke="#000" stroke-width="2"/>
<text x="968.7" y="589.5" font-size="17.8" text-anchor="middle">500</text>
<line x1="52.5" y1="40.8" x2="60.6" y2="40.8" stroke="#000" stroke-width="2"/>
<text transform="translate(36.5,38.3) rotate(-90)" font-size="17.8" text-anchor="middle">100</text>
<line x1="52.5" y1="148.0" x2="60.6" y2="148.0" stroke="#000" stroke-width="2"/>
<text transform="translate(36.5,150.8) rotate(-90)" font-size="17.8" text-anchor="middle">50</text>
<line x1="52.5" y1="256.8" x2="60.6" y2="256.8" stroke="#000" stroke-width="2"/>
<text transform="translate(36.5,252.7) rotate(-90)" font-size="17.8" text-anchor="middle">0</text>
<line x1="52.5" y1="364.1" x2="60.6" y2="364.1" stroke="#000" stroke-width="2"/>
<text transform="translate(36.5,363.7) rotate(-90)" font-size="17.8" text-anchor="middle">-50</text>
<line x1="52.5" y1="471.2" x2="60.6" y2="471.2" stroke="#000" stroke-width="2"/>
<text transform="translate(36.5,471.3) rotate(-90)" font-size="17.8" text-anchor="middle">-100</text>
<text transform="translate(14,272.6) rotate(-90)" font-size="18" text-anchor="middle">Transmittance [%]</text>
<text x="459" y="616.5" font-size="17.5">Wavenumber cm<tspan font-size="10" dy="-5.5">-1</tspan></text>
</g></svg></body></html>
